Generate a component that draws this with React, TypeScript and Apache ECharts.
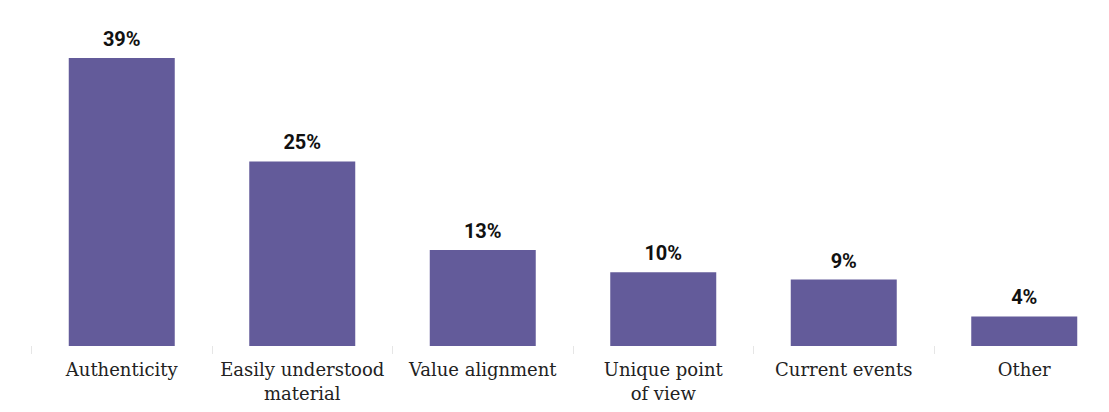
import React, { useEffect, useRef } from "react";
import * as echarts from "echarts";

const categories = [
  "Authenticity",
  "Easily understood\nmaterial",
  "Value alignment",
  "Unique point\nof view",
  "Current events",
  "Other",
];
const values = [39, 25, 13, 10, 9, 4];

export default function App() {
  const ref = useRef<HTMLDivElement>(null);
  useEffect(() => {
    if (!ref.current) return;
    const chart = echarts.init(ref.current, null, { renderer: "svg" });
    chart.setOption({
      animation: false,
      grid: { left: 31.5, top: 58, width: 1083, height: 288 },
      xAxis: {
        type: "category",
        data: categories,
        axisLine: { show: false },
        axisTick: {
          show: true,
          length: 8,
          lineStyle: { color: "#e6e6e6", width: 1 },
        },
        axisLabel: {
          margin: 11,
          color: "#222",
          fontFamily: "DejaVu Serif",
          fontSize: 18,
          lineHeight: 24,
          interval: 0,
        },
      },
      yAxis: {
        type: "value",
        min: 0,
        max: 39,
        show: false,
        splitLine: { show: false },
      },
      series: [
        {
          type: "bar",
          data: values,
          barWidth: 106,
          itemStyle: { color: "#635b9a" },
          label: {
            show: true,
            position: "top",
            distance: 9,
            formatter: "{c}%",
            fontFamily: "Roboto",
            fontWeight: "bold",
            fontSize: 20,
            color: "#111",
          },
        },
      ],
    });
    return () => chart.dispose();
  }, []);
  return (
    <div
      style={{
        position: "absolute",
        left: 0,
        top: 0,
        width: 1109,
        height: 412,
        overflow: "hidden",
      }}
    >
      <div ref={ref} style={{ width: 1140, height: 412 }} />
    </div>
  );
}
